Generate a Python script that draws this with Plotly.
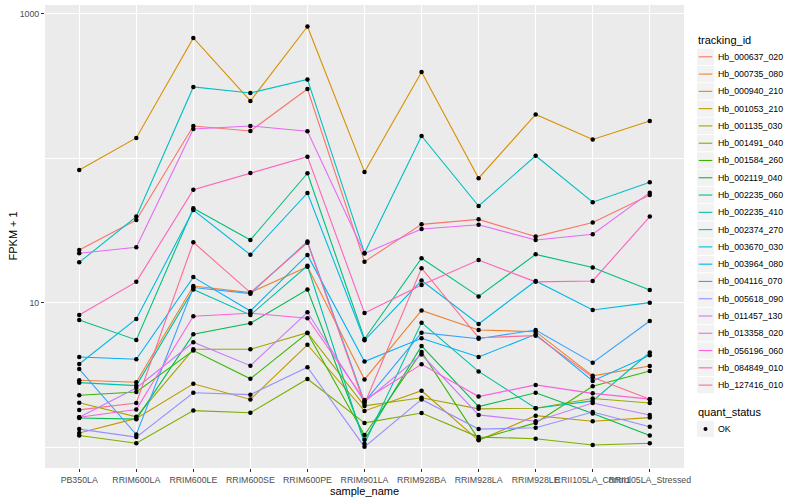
import plotly.graph_objects as go

samples = ["PB350LA", "RRIM600LA", "RRIM600LE", "RRIM600SE", "RRIM600PE", "RRIM901LA",
           "RRIM928BA", "RRIM928LA", "RRIM928LE", "RRII105LA_Control", "RRII105LA_Stressed"]

tracking_ids = ["Hb_000637_020", "Hb_000735_080", "Hb_000940_210", "Hb_001053_210", "Hb_001135_030",
                "Hb_001491_040", "Hb_001584_260", "Hb_002119_040", "Hb_002235_060", "Hb_002235_410",
                "Hb_002374_270", "Hb_003670_030", "Hb_003964_080", "Hb_004116_070", "Hb_005618_090",
                "Hb_011457_130", "Hb_013358_020", "Hb_056196_060", "Hb_084849_010", "Hb_127416_010"]

colors = ["#F8766D", "#EA8331", "#D89000", "#C09B00", "#A3A500", "#7CAE00", "#39B600", "#00BB4E",
          "#00BF7D", "#00C1A3", "#00BFC4", "#00BAE0", "#00B0F6", "#35A2FF", "#9590FF", "#C77CFF",
          "#E76BF3", "#FA62DB", "#FF62BC", "#FF6C91"]

Hb_000637_020 = [23.3, 37.5, 167.8, 155.0, 302.7, 19.3, 35.0, 37.9, 28.8, 36.1, 55.9]
Hb_000735_080 = [2.92, 2.83, 13.1, 11.8, 17.8, 2.96, 8.87, 6.50, 6.33, 3.13, 3.66]
Hb_000940_210 = [83.2, 138.7, 682, 250, 819, 80.7, 396.8, 73.0, 201.6, 135.4, 181.8]
Hb_001053_210 = [1.26, 1.59, 2.76, 2.15, 5.14, 1.79, 2.47, 1.12, 1.66, 1.52, 1.61]
Hb_001135_030 = [2.04, 1.63, 4.78, 4.78, 6.23, 1.94, 2.21, 1.85, 1.87, 2.18, 2.03]
Hb_001491_040 = [1.21, 1.07, 1.80, 1.74, 2.98, 1.48, 1.73, 1.18, 1.15, 1.04, 1.07]
Hb_001584_260 = [2.30, 2.42, 4.68, 2.99, 6.20, 1.22, 4.58, 1.14, 1.48, 2.65, 3.38]
Hb_002119_040 = [1.60, 1.57, 6.07, 7.24, 12.4, 1.13, 5.04, 1.92, 2.39, 1.72, 1.21]
Hb_002235_060 = [7.63, 5.55, 45.2, 27.3, 79.0, 5.63, 20.4, 11.1, 21.7, 17.6, 12.3]
Hb_002235_410 = [2.81, 2.68, 12.4, 8.26, 18.1, 1.06, 7.31, 3.36, 1.87, 2.10, 4.54]
Hb_002374_270 = [19.1, 39.6, 312.5, 283.9, 352.2, 22.2, 143.1, 46.9, 104.3, 49.8, 68.4]
Hb_003670_030 = [3.78, 7.75, 44.0, 21.6, 57.7, 5.52, 14.3, 7.16, 14.2, 8.95, 10.05]
Hb_003964_080 = [4.23, 4.08, 15.1, 8.80, 21.5, 3.93, 5.70, 4.23, 6.07, 2.89, 4.35]
Hb_004116_070 = [3.49, 1.23, 12.8, 11.6, 26.6, 2.07, 6.23, 5.66, 6.50, 3.86, 7.51]
Hb_005618_090 = [1.34, 1.18, 2.39, 2.32, 3.59, 1.01, 2.15, 1.34, 1.37, 1.76, 1.39]
Hb_011457_130 = [1.62, 2.58, 5.35, 3.68, 8.62, 2.07, 4.40, 1.68, 1.52, 2.03, 1.68]
Hb_013358_020 = [22.1, 24.3, 160.0, 167.8, 154.3, 22.0, 32.5, 34.8, 27.3, 29.9, 58.0]
Hb_056196_060 = [1.62, 1.83, 8.09, 8.49, 7.84, 2.13, 3.76, 2.25, 2.71, 2.37, 2.16]
Hb_084849_010 = [8.26, 14.0, 60.8, 79.4, 102.9, 8.53, 13.3, 19.8, 14.0, 14.2, 39.6]
Hb_127416_010 = [1.82, 2.03, 26.3, 11.8, 26.1, 2.00, 17.4, 5.75, 5.94, 3.06, 2.16]

series = [Hb_000637_020, Hb_000735_080, Hb_000940_210, Hb_001053_210, Hb_001135_030,
          Hb_001491_040, Hb_001584_260, Hb_002119_040, Hb_002235_060, Hb_002235_410,
          Hb_002374_270, Hb_003670_030, Hb_003964_080, Hb_004116_070, Hb_005618_090,
          Hb_011457_130, Hb_013358_020, Hb_056196_060, Hb_084849_010, Hb_127416_010]

status_levels = ["OK"]

FONT = "Liberation Sans, Arial, sans-serif"
W, H = 800, 500
ML, MR, MT, MB = 45, 116, 5, 32
PW, PH = W - ML - MR, H - MT - MB


def px(x):
    return (x - ML) / PW


def py(y):
    return 1 - (y - MT) / PH


fig = go.Figure()
for name, vals, col in zip(tracking_ids, series, colors):
    fig.add_trace(go.Scatter(x=samples, y=vals, mode="lines", name=name,
                             line=dict(color=col, width=1.1), showlegend=False))

all_x, all_y = [], []
for vals in series:
    all_x += samples
    all_y += vals
fig.add_trace(go.Scatter(x=all_x, y=all_y, mode="markers", name=status_levels[0],
                         marker=dict(color="black", size=4.5, symbol="circle"),
                         showlegend=False))

# manual ggplot-style legend
shapes, annos = [], []
annos.append(dict(text="tracking_id", x=px(696), y=py(40.5), xref="paper", yref="paper",
                  xanchor="left", yanchor="middle", showarrow=False,
                  font=dict(size=11, color="black", family=FONT)))
step = 17.28
for i, (name, col) in enumerate(zip(tracking_ids, colors)):
    yc = 56.8 + step * i
    shapes.append(dict(type="rect", xref="paper", yref="paper",
                       x0=px(697), x1=px(714), y0=py(yc - step / 2 + 0.5), y1=py(yc + step / 2 - 0.5),
                       fillcolor="#F2F2F2", line=dict(width=0), layer="above"))
    shapes.append(dict(type="line", xref="paper", yref="paper",
                       x0=px(698.7), x1=px(712.3), y0=py(yc), y1=py(yc),
                       line=dict(color=col, width=1.1), layer="above"))
    annos.append(dict(text=name, x=px(716), y=py(yc), xref="paper", yref="paper",
                      xanchor="left", yanchor="middle", showarrow=False,
                      font=dict(size=8.8, color="black", family=FONT)))

annos.append(dict(text="quant_status", x=px(696), y=py(412), xref="paper", yref="paper",
                  xanchor="left", yanchor="middle", showarrow=False,
                  font=dict(size=11, color="black", family=FONT)))
yc = 429
shapes.append(dict(type="rect", xref="paper", yref="paper",
                   x0=px(697), x1=px(714), y0=py(yc - step / 2 + 0.5), y1=py(yc + step / 2 - 0.5),
                   fillcolor="#F2F2F2", line=dict(width=0), layer="above"))
shapes.append(dict(type="circle", xref="paper", yref="paper",
                   x0=px(703.5), x1=px(707.5), y0=py(yc - 2), y1=py(yc + 2),
                   fillcolor="black", line=dict(width=0), layer="above"))
annos.append(dict(text=status_levels[0], x=px(716), y=py(yc), xref="paper", yref="paper",
                  xanchor="left", yanchor="middle", showarrow=False,
                  font=dict(size=8.8, color="black", family=FONT)))

# y axis title (ggplot position)
annos.append(dict(text="FPKM + 1", x=px(12), y=py(236.5), xref="paper", yref="paper",
                  xanchor="center", yanchor="middle", showarrow=False, textangle=-90,
                  font=dict(size=11, color="black", family=FONT)))

fig.update_layout(
    width=W, height=H,
    margin=dict(l=ML, r=MR, t=MT, b=MB, autoexpand=False),
    paper_bgcolor="white", plot_bgcolor="#EBEBEB",
    font=dict(family=FONT, size=9, color="#4D4D4D"),
    showlegend=False, shapes=shapes, annotations=annos,
)

fig.update_xaxes(
    type="category", categoryorder="array", categoryarray=samples,
    range=[-0.6, 10.6], showgrid=True, gridcolor="white", gridwidth=1.1,
    ticks="outside", ticklen=3, tickcolor="#333333", tickwidth=1, tickangle=0,
    tickfont=dict(size=8.8, color="#4D4D4D"), zeroline=False, showline=False,
    automargin=False,
    title=dict(text="sample_name", font=dict(size=11, color="black"), standoff=1),
)
fig.update_yaxes(
    type="log", range=[-0.142, 3.062],
    tickvals=[10, 1000], ticktext=["10", "1000"],
    showgrid=True, gridcolor="white", gridwidth=1.1,
    minor=dict(tickvals=[1, 100], showgrid=True, gridcolor="white", gridwidth=0.55, ticks=""),
    ticks="outside", ticklen=3, tickcolor="#333333", tickwidth=1,
    tickfont=dict(size=8.8, color="#4D4D4D"), zeroline=False, showline=False,
    automargin=False,
)

fig.write_html("out.html", config={"displayModeBar": False},
               post_script="document.body.style.margin='0';document.body.style.padding='0';")
